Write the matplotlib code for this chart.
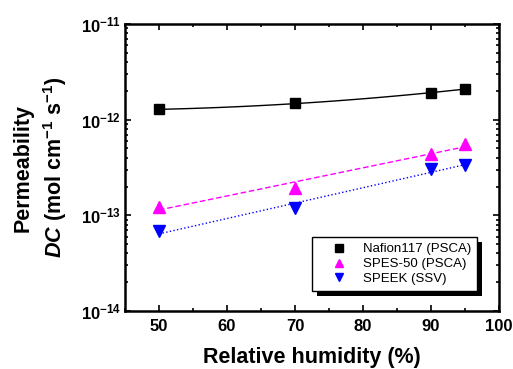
import numpy as np
import matplotlib
matplotlib.use("Agg")
import matplotlib.pyplot as plt
from matplotlib.patches import Rectangle
from matplotlib.ticker import MultipleLocator, LogLocator, FixedLocator, NullFormatter

plt.rcParams['font.family'] = 'Liberation Sans'
plt.rcParams['mathtext.fontset'] = 'custom'
plt.rcParams['mathtext.rm'] = 'Liberation Sans:bold'
plt.rcParams['mathtext.bf'] = 'Liberation Sans:bold'
plt.rcParams['mathtext.it'] = 'Liberation Sans:italic:bold'

# relative humidity (%) and permeability DC (mol cm^-1 s^-1)
rh = [50, 70, 90, 95]
nafion = [1.28e-12, 1.48e-12, 1.89e-12, 2.11e-12]
spes = [1.23e-13, 1.95e-13, 4.38e-13, 5.57e-13]
speek = [6.8e-14, 1.19e-13, 3.02e-13, 3.36e-13]

series_names = ['Nafion117 (PSCA)', 'SPES-50 (PSCA)', 'SPEEK (SSV)']

fig = plt.figure(figsize=(5.13, 3.69), dpi=100)
ax = fig.add_axes([0.2437, 0.157, 0.729, 0.778])

# fitted trend lines in log space
xf = np.linspace(50, 95, 100)
p_naf = np.polyfit(rh, np.log10(nafion), 2)
p_spes = np.polyfit(rh, np.log10(spes), 1)
p_speek = np.polyfit(rh, np.log10(speek), 1)
ax.plot(xf, 10 ** np.polyval(p_naf, xf), '-', color='black', lw=1.0)
ax.plot(xf, 10 ** np.polyval(p_spes, xf), '--', color='magenta', lw=1.0, dashes=(4, 2))
ax.plot(xf, 10 ** np.polyval(p_speek, xf), ':', color='blue', lw=1.0)

ax.plot(rh, nafion, 's', color='black', ms=7.5, label=series_names[0])
ax.plot(rh, spes, '^', color='magenta', ms=9, label=series_names[1])
ax.plot(rh, speek, 'v', color='blue', ms=9, label=series_names[2])

ax.set_yscale('log')
ax.set_xlim(45, 100)
ax.set_ylim(1e-14, 1e-11)

ax.xaxis.set_major_locator(MultipleLocator(10))
ax.xaxis.set_minor_locator(MultipleLocator(5))
ax.yaxis.set_major_locator(FixedLocator([1e-14, 1e-13, 1e-12, 1e-11]))
ax.yaxis.set_minor_locator(LogLocator(base=10, subs=np.arange(2, 10)))
ax.yaxis.set_minor_formatter(NullFormatter())
ax.set_yticklabels([r'$10^{-14}$', r'$10^{-13}$', r'$10^{-12}$', r'$10^{-11}$'])

ax.tick_params(which='both', direction='in', top=True, right=True, width=1.2)
ax.tick_params(which='major', length=4.5, labelsize=12)
ax.tick_params(which='minor', length=2.5)
ax.tick_params(axis='x', pad=6)
ax.tick_params(axis='y', pad=3)
for lbl in ax.get_xticklabels():
    lbl.set_fontweight('bold')
for sp in ax.spines.values():
    sp.set_linewidth(1.8)

ax.set_xlabel('Relative humidity (%)', fontsize=15.5, fontweight='bold')
ax.xaxis.set_label_coords(0.5, -0.125)
ax.set_ylabel('Permeability\n' + r'$\it{DC}$ (mol cm$^{-1}$ s$^{-1}$)',
              fontsize=15.5, fontweight='bold', linespacing=1.35)
ax.yaxis.set_label_coords(-0.15, 0.5)

leg = ax.legend(loc='lower right', bbox_to_anchor=(0.941, 0.07), borderaxespad=0,
                fontsize=9.5, frameon=True, fancybox=False, framealpha=1,
                handlelength=3.2, handletextpad=0.2, borderpad=0.45,
                labelspacing=0.2, markerscale=0.7)
leg.get_frame().set_edgecolor('black')
leg.get_frame().set_facecolor('white')
leg.get_frame().set_linewidth(1.0)
leg.set_zorder(5)

# solid drop shadow behind the legend box
fig.canvas.draw()
bb = leg.get_window_extent().transformed(fig.transFigure.inverted())
dx, dy = 5 / 513, 5 / 369
ax.add_patch(Rectangle((bb.x0 + dx, bb.y0 - dy), bb.width, bb.height,
                       transform=fig.transFigure, facecolor='black',
                       edgecolor='none', zorder=4, clip_on=False))

fig.savefig('out.png', dpi=100)
